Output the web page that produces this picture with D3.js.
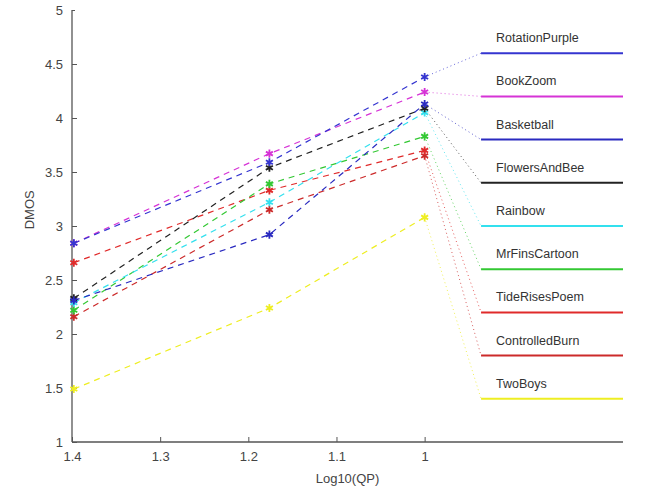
<!DOCTYPE html>
<html>
<head>
<meta charset="utf-8">
<script src="https://cdn.jsdelivr.net/npm/d3@7"></script>
<style>
  body { margin: 0; background: #fff; }
  text { font-family: "Liberation Sans", Arial, sans-serif; }
</style>
</head>
<body>
<div id="chart"></div>
<script>
// x positions: log10 of QP = 25, 15, 10
const qpLog = [1.39794, 1.17609, 1];

const seriesNames = ["RotationPurple", "BookZoom", "Basketball", "FlowersAndBee", "Rainbow",
                     "MrFinsCartoon", "TideRisesPoem", "ControlledBurn", "TwoBoys"];
const seriesColors = ["#3535d0", "#d633d6", "#2a2ac0", "#222222", "#33e0ee",
                      "#33c833", "#e02a2a", "#cc2a2a", "#eeee22"];

const rotationPurple = [2.84, 3.59, 4.38];
const bookZoom       = [2.84, 3.67, 4.24];
const basketball     = [2.31, 2.92, 4.13];
const flowersAndBee  = [2.33, 3.54, 4.09];
const rainbow        = [2.29, 3.22, 4.05];
const mrFinsCartoon  = [2.22, 3.39, 3.83];
const tideRisesPoem  = [2.66, 3.33, 3.70];
const controlledBurn = [2.16, 3.15, 3.65];
const twoBoys        = [1.49, 2.24, 3.08];

const seriesValues = [rotationPurple, bookZoom, basketball, flowersAndBee, rainbow,
                      mrFinsCartoon, tideRisesPoem, controlledBurn, twoBoys];

const yTicks = [1, 1.5, 2, 2.5, 3, 3.5, 4, 4.5, 5];
const xTicks = [1.4, 1.3, 1.2, 1.1, 1];

const W = 647, H = 495;
const x = d3.scaleLinear().domain([1.4, 0.775]).range([72, 623]);
const y = d3.scaleLinear().domain([1, 5]).range([442, 10]);

// legend slots sit in data space to the right of the last QP
const legendSlot = d3.range(seriesNames.length).map(i => 4.6 - 0.4 * i);
const legendX0 = 0.936, legendX1 = 0.775;

const svg = d3.select("#chart").append("svg")
  .attr("width", W).attr("height", H);

svg.append("rect").attr("width", W).attr("height", H).attr("fill", "#fff");

// axes
const axisColor = "#555";
const gx = svg.append("g").attr("transform", `translate(0,${y(1)})`)
  .call(d3.axisBottom(x).tickValues(xTicks).tickSize(-5).tickPadding(10)
    .tickFormat(d3.format("")));
const gy = svg.append("g").attr("transform", `translate(${x(1.4)},0)`)
  .call(d3.axisLeft(y).tickValues(yTicks).tickSize(-5).tickPadding(9)
    .tickFormat(d3.format("")));

[gx, gy].forEach(g => {
  g.select(".domain").attr("stroke", axisColor).attr("stroke-width", 1.3);
  g.selectAll(".tick line").attr("stroke", axisColor);
  g.selectAll(".tick text").attr("fill", "#444").style("font-size", "13px");
});
gy.select(".domain").attr("d", `M0,${y(5)}V${y(1)}`);
gx.select(".domain").attr("d", `M${x(1.4)},0H${x(legendX1)}`);
gy.selectAll(".tick").filter(d => d === 5).select("line").attr("x2", 3);

svg.append("text")
  .attr("x", (x(1.4) + x(legendX1)) / 2).attr("y", 483)
  .attr("text-anchor", "middle")
  .style("font-size", "13px").attr("fill", "#444")
  .text("Log10(QP)");

svg.append("text")
  .attr("transform", `translate(34,${y(3.15)}) rotate(-90)`)
  .attr("text-anchor", "middle")
  .style("font-size", "13px").attr("fill", "#444")
  .text("DMOS");

const line = d3.line().x((d, i) => x(qpLog[i])).y(d => y(d));

const series = seriesNames.map((name, i) => ({
  name, color: seriesColors[i], values: seriesValues[i], slot: legendSlot[i]
}));

// dotted leaders from last point to legend line
svg.append("g").selectAll("line")
  .data(series).join("line")
  .attr("x1", d => x(qpLog[2])).attr("y1", d => y(d.values[2]))
  .attr("x2", x(legendX0)).attr("y2", d => y(d.slot))
  .attr("stroke", d => d.color)
  .attr("stroke-width", 1)
  .attr("stroke-dasharray", "1,3")
  .attr("opacity", 0.75);

// dashed series lines (drawn bottom-up so top series stay visible)
svg.append("g").selectAll("path")
  .data(series.slice().reverse()).join("path")
  .attr("d", d => line(d.values))
  .attr("fill", "none")
  .attr("stroke", d => d.color)
  .attr("stroke-width", 1.2)
  .attr("stroke-dasharray", "6,5");

// asterisk markers
const sym = d3.symbol().type(d3.symbolAsterisk).size(45);
series.slice().reverse().forEach(s => {
  svg.append("g").selectAll("path")
    .data(s.values).join("path")
    .attr("transform", (d, i) => `translate(${x(qpLog[i])},${y(d)})`)
    .attr("d", sym)
    .attr("fill", "none")
    .attr("stroke", s.color)
    .attr("stroke-width", 1.8);
});

// legend lines and labels
const lg = svg.append("g").selectAll("g").data(series).join("g");
lg.append("line")
  .attr("x1", x(legendX0)).attr("x2", x(legendX1))
  .attr("y1", d => y(d.slot)).attr("y2", d => y(d.slot))
  .attr("stroke", d => d.color)
  .attr("stroke-width", 2);
lg.append("text")
  .attr("x", x(legendX0) + 15)
  .attr("y", d => y(d.slot) - 11)
  .style("font-size", "12.5px")
  .attr("fill", "#333")
  .text(d => d.name);
</script>
</body>
</html>
